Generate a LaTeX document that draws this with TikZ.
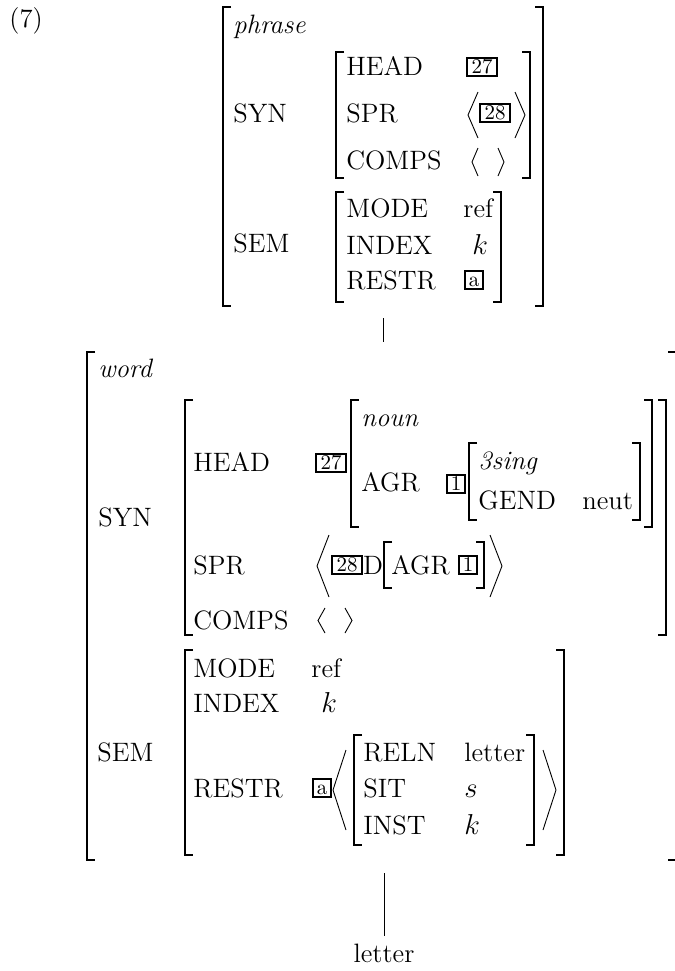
\documentclass[tikz,border=0pt]{standalone}
\usepackage{amsmath,amssymb}
\usepackage{tikz}
\newcommand{\avmfont}{\fontsize{13.3}{16}\selectfont}
\newcommand{\tagfont}{\fontsize{10.5}{12}\selectfont}
\newcommand{\avmbrackets}[4]{%
  \draw[brk] (#1+8,#2) -- (#1,#2) -- (#1,#4) -- (#1+8,#4);
  \draw[brk] (#3-8,#2) -- (#3,#2) -- (#3,#4) -- (#3-8,#4);}
\newcommand{\avmangles}[5]{%
  \draw[ang] (#1+#5,#3) -- (#1,{(#3+#4)/2}) -- (#1+#5,#4);
  \draw[ang] (#2-#5,#3) -- (#2,{(#3+#4)/2}) -- (#2-#5,#4);}

\begin{document}
\begin{tikzpicture}[x=0.5pt,y=-0.5pt,font=\avmfont,line cap=butt,
  brk/.style={line width=0.75pt},
  ang/.style={line width=0.45pt},
  edge/.style={line width=0.4pt},
  lbl/.style={anchor=base west,inner sep=0pt},
  tag/.style={draw,line width=1pt,font=\tagfont,inner xsep=2.1pt,inner ysep=1.4pt,text height=6.5pt,text depth=0pt}]
\useasboundingbox (0,0) rectangle (675,971);
\node[lbl] (ex) at (9,27) {(7)};
\avmbrackets{223}{7}{543}{306}
\node[lbl] (p-type) at (233,33) {\textit{phrase}};
\node[lbl] (p-syn) at (233,122) {SYN};
\avmbrackets{336}{52}{530}{178}
\node[lbl] (p-head) at (346,75) {HEAD};
\node[tag] (p-t27) at (482,67) {27};
\node[lbl] (p-spr) at (346,122) {SPR};
\avmangles{468}{525}{92}{138}{10}
\node[tag] (p-t28) at (495,113) {28};
\node[lbl] (p-comps) at (346,169) {COMPS};
\avmangles{472}{504}{148}{176}{6}
\node[lbl] (p-sem) at (233,252) {SEM};
\avmbrackets{336}{192}{501}{302}
\node[lbl] (p-mode) at (346,217) {MODE};
\node[lbl] (p-ref) at (463,217) {ref};
\node[lbl] (p-index) at (346,254) {INDEX};
\node[lbl] (p-k) at (472,254) {$k$};
\node[lbl] (p-restr) at (346,289) {RESTR};
\node[tag] (p-ta) at (474,280) {a};
\coordinate (p-root) at (383,318);
\coordinate (w-top) at (383,342);
\draw[edge] (p-root) -- (w-top);
\avmbrackets{87}{352}{676}{860}
\node[lbl] (w-type) at (98,377) {\textit{word}};
\node[lbl] (w-syn) at (98,526) {SYN};
\avmbrackets{185}{400}{666}{635}
\node[lbl] (w-head) at (193,471) {HEAD};
\node[tag] (w-t27) at (331,463) {27};
\avmbrackets{351}{400}{652}{527}
\node[lbl] (w-noun) at (361,426) {\textit{noun}};
\node[lbl] (w-agr) at (361,491) {AGR};
\node[tag] (w-t1) at (456,484) {1};
\avmbrackets{469}{443}{640}{520}
\node[lbl] (w-3sing) at (478,469) {\textit{3sing}};
\node[lbl] (w-gend) at (478,509) {GEND};
\node[lbl] (w-neut) at (582,509) {neut};
\node[lbl] (w-spr) at (193,574) {SPR};
\avmangles{317}{502}{535}{597}{12}
\node[tag] (w-t28) at (347,565) {28};
\node[lbl] (w-d) at (w-t28.east |- w-spr.base) {D};
\avmbrackets{384}{542}{484}{588}
\node[lbl] (w-dagr) at (391,574) {AGR};
\node[tag] (w-t1b) at (468,565) {1};
\node[lbl] (w-comps) at (193,629) {COMPS};
\avmangles{318}{352}{608}{633}{7}
\node[lbl] (w-sem) at (97,761) {SEM};
\avmbrackets{185}{650}{564}{855}
\node[lbl] (w-mode) at (193,677) {MODE};
\node[lbl] (w-ref) at (311,677) {ref};
\node[lbl] (w-index) at (193,712) {INDEX};
\node[lbl] (w-k) at (321,712) {$k$};
\node[lbl] (w-restr) at (193,797) {RESTR};
\node[tag] (w-ta) at (322,788) {a};
\avmangles{333}{556}{750}{830}{13}
\avmbrackets{354}{735}{534}{845}
\node[lbl] (w-reln) at (363,761) {RELN};
\node[lbl] (w-letter) at (464,761) {letter};
\node[lbl] (w-sit) at (363,797) {SIT};
\node[lbl] (w-s) at (464,797) {$s$};
\node[lbl] (w-inst) at (363,834) {INST};
\node[lbl] (w-k2) at (464,834) {$k$};
\coordinate (w-root) at (384,873);
\node[anchor=base] (leaf) at (384,962) {letter};
\draw[edge] (w-root) -- (leaf.north);
\end{tikzpicture}
\end{document}
